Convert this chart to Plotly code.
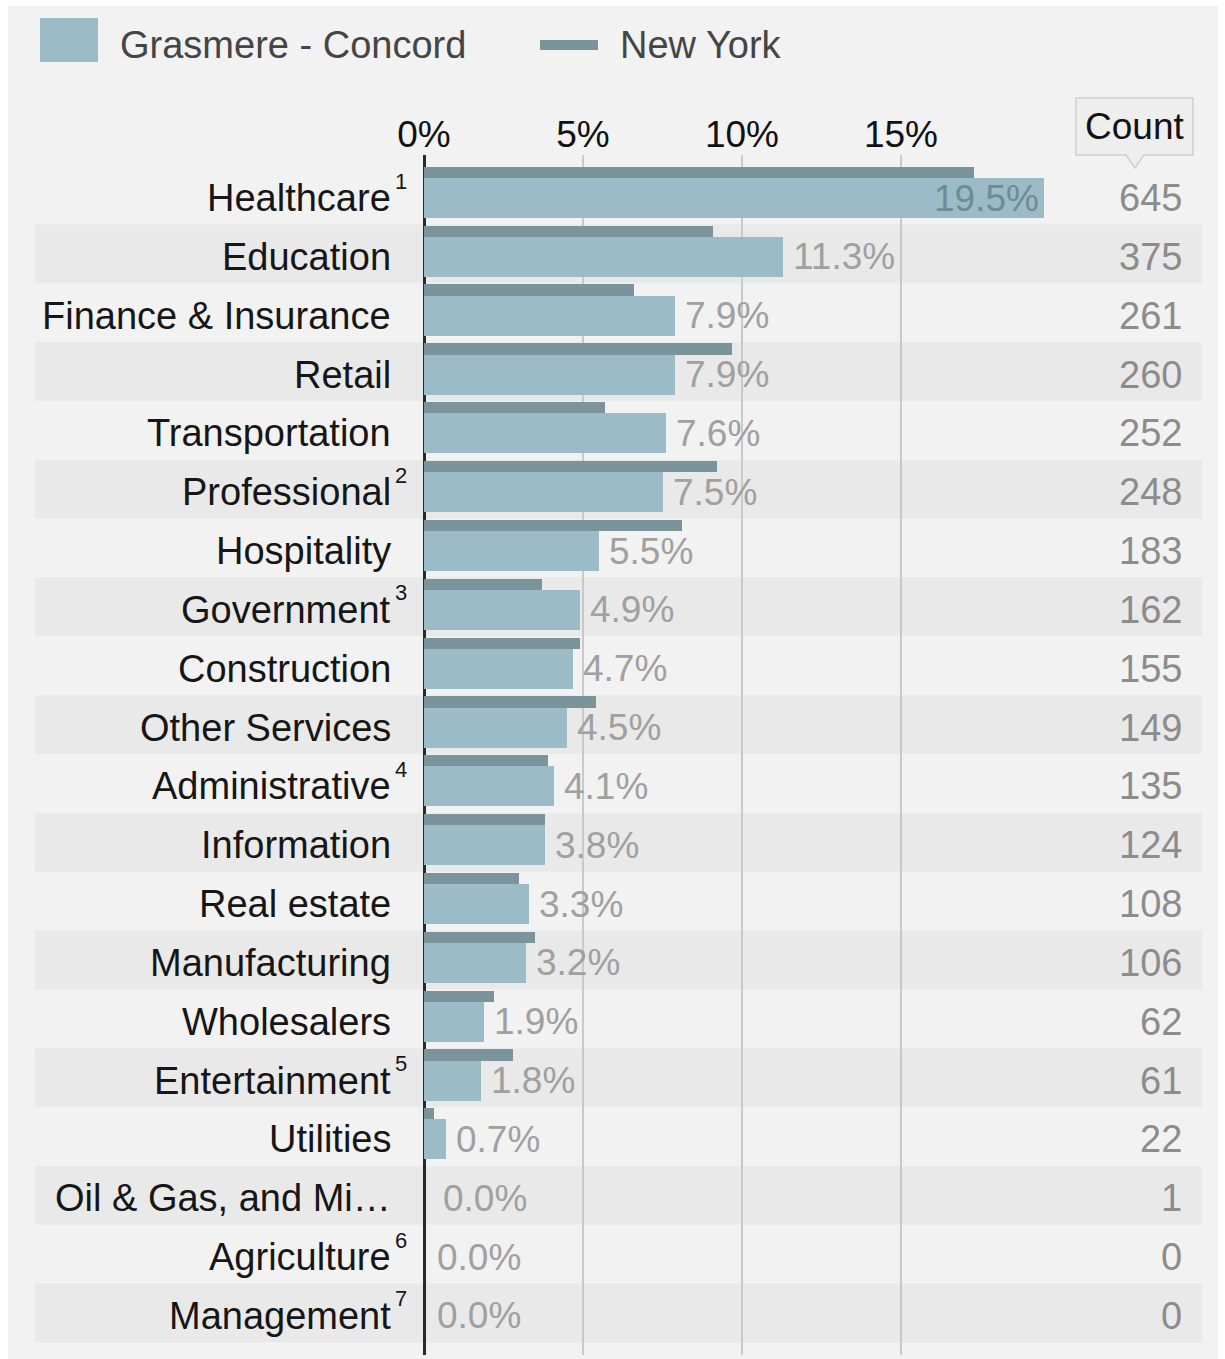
import plotly.graph_objects as go

W, H = 1225, 1359

categories = ["Healthcare", "Education", "Finance & Insurance", "Retail", "Transportation",
              "Professional", "Hospitality", "Government", "Construction", "Other Services",
              "Administrative", "Information", "Real estate", "Manufacturing", "Wholesalers",
              "Entertainment", "Utilities", "Oil & Gas, and Mi…", "Agriculture", "Management"]
footnotes = ["1", "", "", "", "", "2", "", "3", "", "", "4", "", "", "", "", "5", "", "", "6", "7"]
grasmere = [19.5, 11.3, 7.9, 7.9, 7.6, 7.5, 5.5, 4.9, 4.7, 4.5, 4.1, 3.8, 3.3, 3.2, 1.9, 1.8, 0.7, 0.0, 0.0, 0.0]
new_york = [17.3, 9.1, 6.6, 9.7, 5.7, 9.2, 8.1, 3.7, 4.9, 5.4, 3.9, 3.8, 3.0, 3.5, 2.2, 2.8, 0.3, 0.0, 0.0, 0.0]
counts = [645, 375, 261, 260, 252, 248, 183, 162, 155, 149, 135, 124, 108, 106, 62, 61, 22, 1, 0, 0]
tick_vals = [0, 5, 10, 15]
tick_text = ["0%", "5%", "10%", "15%"]

GC_COLOR = "#9bbbc6"
NY_COLOR = "#7b949c"
FONT = "Liberation Sans, Arial, sans-serif"

def px(x):
    return x / W

def py(y):
    return 1 - y / H

idx = list(range(len(categories)))

fig = go.Figure()
fig.add_trace(go.Bar(
    y=idx, x=new_york, orientation="h", name="New York",
    marker=dict(color=NY_COLOR, line=dict(width=0)),
    width=0.19, offset=-0.53, hoverinfo="x+y",
))
fig.add_trace(go.Bar(
    y=idx, x=grasmere, orientation="h", name="Grasmere - Concord",
    marker=dict(color=GC_COLOR, line=dict(width=0)),
    width=0.68, offset=-0.34, hoverinfo="x+y",
))

shapes = []
# page background
shapes.append(dict(type="rect", xref="paper", yref="paper", x0=px(8), x1=px(1218),
                   y0=0, y1=py(6), fillcolor="#f3f2f2", line=dict(width=0), layer="below"))
# row stripes
for i in idx:
    if i % 2 == 1:
        shapes.append(dict(type="rect", xref="paper", yref="y", x0=px(35), x1=px(1202),
                           y0=i - 0.55, y1=i + 0.45, fillcolor="#eae9e9",
                           line=dict(width=0), layer="below"))
# legend markers
shapes.append(dict(type="rect", xref="paper", yref="paper", x0=px(40), x1=px(98),
                   y0=py(62), y1=py(18), fillcolor=GC_COLOR, line=dict(width=0)))
shapes.append(dict(type="rect", xref="paper", yref="paper", x0=px(540), x1=px(598),
                   y0=py(50), y1=py(40), fillcolor=NY_COLOR, line=dict(width=0)))
# Count header box with pointer
bx0, bx1, by0, by1, tipx, tipy = 1076, 1193, 98, 155, 1135, 168
path = (f"M {px(bx0)} {py(by0)} L {px(bx1)} {py(by0)} L {px(bx1)} {py(by1)} "
        f"L {px(tipx + 9)} {py(by1)} L {px(tipx)} {py(tipy)} L {px(tipx - 9)} {py(by1)} "
        f"L {px(bx0)} {py(by1)} Z")
shapes.append(dict(type="path", xref="paper", yref="paper", path=path,
                   fillcolor="#efeeee", line=dict(color="#cfcfcf", width=1.5)))

annotations = []
# legend labels
annotations.append(dict(text="Grasmere - Concord", xref="paper", yref="paper", x=px(118), y=py(45),
                        xanchor="left", yanchor="middle", showarrow=False,
                        font=dict(family=FONT, size=38, color="#454545")))
annotations.append(dict(text="New York", xref="paper", yref="paper", x=px(618), y=py(45),
                        xanchor="left", yanchor="middle", showarrow=False,
                        font=dict(family=FONT, size=38, color="#454545")))
annotations.append(dict(text="Count", xref="paper", yref="paper", x=px(1134), y=py(127),
                        xanchor="center", yanchor="middle", showarrow=False,
                        font=dict(family=FONT, size=37, color="#111111")))

for i in idx:
    # category label
    annotations.append(dict(text=categories[i], xref="paper", yref="y", x=px(393), y=i,
                            xanchor="right", yanchor="middle", showarrow=False,
                            font=dict(family=FONT, size=38, color="#161616")))
    if footnotes[i]:
        annotations.append(dict(text=footnotes[i], xref="paper", yref="y", x=px(393), y=i,
                                xanchor="left", yanchor="middle", yshift=17, showarrow=False,
                                font=dict(family=FONT, size=22, color="#161616")))
    # value label
    v = grasmere[i]
    if i == 0:
        annotations.append(dict(text=f"{v:.1f}%", xref="x", yref="y", x=v, y=i,
                                xanchor="right", yanchor="middle", xshift=-3, showarrow=False,
                                font=dict(family=FONT, size=37, color="#6f8b95")))
    else:
        shift = 17 if v == 0 and i == 17 else (11 if v == 0 else 8)
        annotations.append(dict(text=f"{v:.1f}%", xref="x", yref="y", x=v, y=i,
                                xanchor="left", yanchor="middle", xshift=shift, showarrow=False,
                                font=dict(family=FONT, size=37, color="#a0a0a0")))
    # count
    annotations.append(dict(text=str(counts[i]), xref="paper", yref="y", x=px(1184), y=i,
                            xanchor="right", yanchor="middle", showarrow=False,
                            font=dict(family=FONT, size=38, color="#8c8c8c")))

x_max = (1202 - 424) / 31.8
y_top = -(198 - 155) / 58.84
y_bot = (1355 - 198) / 58.84

fig.update_layout(
    width=W, height=H,
    margin=dict(l=0, r=0, t=0, b=0, pad=0, autoexpand=False),
    paper_bgcolor="#ffffff",
    plot_bgcolor="rgba(0,0,0,0)",
    barmode="overlay",
    bargap=0,
    showlegend=False,
    shapes=shapes,
    annotations=annotations,
    xaxis=dict(
        domain=[px(424), px(1202)], range=[0, x_max], side="top",
        tickvals=tick_vals, ticktext=tick_text,
        tickfont=dict(family=FONT, size=37, color="#111111"),
        showgrid=True, gridcolor="#c9c9c9", gridwidth=1.5,
        zeroline=True, zerolinecolor="#2a2a2a", zerolinewidth=2.5,
        showline=False, ticks="", fixedrange=True, automargin=False,
    ),
    yaxis=dict(
        domain=[py(1355), py(155)], range=[y_bot, y_top],
        showticklabels=False, showgrid=False, zeroline=False, showline=False,
        ticks="", fixedrange=True, automargin=False,
    ),
)

fig.write_html("out.html")
